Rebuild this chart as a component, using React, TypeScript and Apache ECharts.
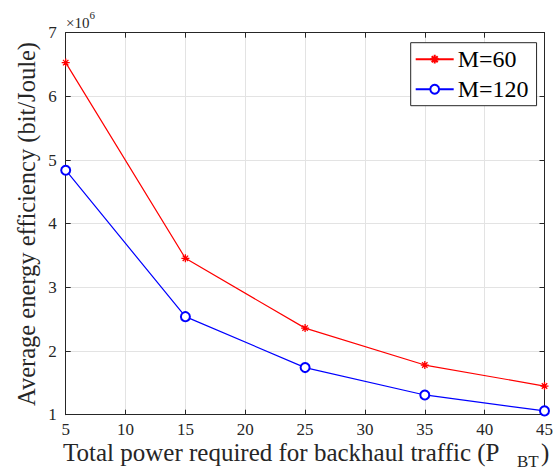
import React, { useEffect, useRef } from "react";
import * as echarts from "echarts";

const xValues = [5, 15, 25, 35, 45];
const seriesM60 = [6.53, 3.456, 2.36, 1.78, 1.45];
const seriesM120 = [4.84, 2.54, 1.74, 1.31, 1.06];
const seriesNames = ["M=60", "M=120"];
const yLabel = "Average energy efficiency (bit/Joule)";
const xLabelMain = "Total power required for backhaul traffic (P";
const xLabelSub = "BT";

const FONT = "Liberation Serif";
const AXIS_COLOR = "#262626";
const GRID_COLOR = "#e3e3e3";
const ASTERISK = "path://M5,0 L5,10 M0,5 L10,5 M1.6,1.6 L8.4,8.4 M1.6,8.4 L8.4,1.6";

export default function App() {
  const ref = useRef<HTMLDivElement>(null);
  useEffect(() => {
    if (!ref.current) return;
    const chart = echarts.init(ref.current, undefined, { renderer: "svg" });
    const gl = 65.7, gt = 32.7, gw = 480, gh = 382;
    const axisCommon = {
      min: 5,
      max: 45,
      interval: 5,
      axisLine: { show: true, onZero: false, lineStyle: { color: AXIS_COLOR, width: 1 } },
      axisTick: { show: true, inside: true, length: 5, lineStyle: { color: AXIS_COLOR } },
    };
    const yCommon = {
      min: 1,
      max: 7,
      interval: 1,
      axisLine: { show: true, onZero: false, lineStyle: { color: AXIS_COLOR, width: 1 } },
      axisTick: { show: true, inside: true, length: 5, lineStyle: { color: AXIS_COLOR } },
    };
    chart.setOption({
      animation: false,
      backgroundColor: "#ffffff",
      textStyle: { fontFamily: FONT },
      grid: { left: gl, top: gt, width: gw, height: gh, containLabel: false },
      xAxis: [
        {
          type: "value",
          position: "bottom",
          ...axisCommon,
          splitLine: { show: true, lineStyle: { color: GRID_COLOR, width: 1 } },
          axisLabel: { color: AXIS_COLOR, fontFamily: FONT, fontSize: 17, lineHeight: 12, margin: 9 },
        },
        {
          type: "value",
          position: "top",
          ...axisCommon,
          splitLine: { show: false },
          axisLabel: { show: false },
        },
      ],
      yAxis: [
        {
          type: "value",
          position: "left",
          ...yCommon,
          splitLine: { show: true, lineStyle: { color: GRID_COLOR, width: 1 } },
          axisLabel: { color: AXIS_COLOR, fontFamily: FONT, fontSize: 17, margin: 9 },
        },
        {
          type: "value",
          position: "right",
          ...yCommon,
          splitLine: { show: false },
          axisLabel: { show: false },
        },
      ],
      legend: {
        orient: "vertical",
        left: 410.7,
        top: 42.7,
        padding: [4, 8, 4, 4],
        itemGap: 5,
        itemWidth: 38,
        itemHeight: 11,
        backgroundColor: "#ffffff",
        borderColor: AXIS_COLOR,
        borderWidth: 1,
        borderRadius: 0,
        textStyle: { fontFamily: FONT, fontSize: 24, color: "#000000", lineHeight: 25, padding: [0, 0, 0, -1] },
        data: seriesNames,
      },
      series: [
        {
          name: seriesNames[0],
          type: "line",
          data: xValues.map((x, i) => [x, seriesM60[i]]),
          symbol: ASTERISK,
          symbolSize: 8,
          showAllSymbol: true,
          lineStyle: { color: "#ff0000", width: 1.2 },
          itemStyle: { color: "#ff0000", borderColor: "#ff0000", borderWidth: 1.3 },
          z: 3,
        },
        {
          name: seriesNames[1],
          type: "line",
          data: xValues.map((x, i) => [x, seriesM120[i]]),
          symbol: "emptyCircle",
          symbolSize: 9,
          showAllSymbol: true,
          lineStyle: { color: "#0000ff", width: 1.2 },
          itemStyle: { color: "#0000ff", borderColor: "#0000ff", borderWidth: 1.3 },
          z: 3,
        },
      ],
      graphic: [
        {
          type: "text",
          x: 66,
          y: 23.2,
          style: { text: "×10", fontFamily: FONT, fontSize: 15, lineHeight: 13, fill: AXIS_COLOR, verticalAlign: "middle" },
        },
        {
          type: "text",
          x: 89.5,
          y: 15.3,
          style: { text: "6", fontFamily: FONT, fontSize: 11, lineHeight: 8, fill: AXIS_COLOR, verticalAlign: "middle" },
        },
        {
          type: "text",
          x: 26,
          y: 224,
          rotation: Math.PI / 2,
          style: {
            text: yLabel,
            fontFamily: FONT,
            fontSize: 24.5,
            fill: AXIS_COLOR,
            align: "center",
            verticalAlign: "middle",
          },
        },
        {
          type: "text",
          x: 63,
          y: 452,
          style: {
            text: xLabelMain,
            fontFamily: FONT,
            fontSize: 25,
            lineHeight: 20,
            fill: AXIS_COLOR,
            align: "left",
            verticalAlign: "middle",
          },
        },
        {
          type: "text",
          x: 517,
          y: 461.5,
          style: {
            text: xLabelSub,
            fontFamily: FONT,
            fontSize: 17,
            lineHeight: 9,
            fill: AXIS_COLOR,
            align: "left",
            verticalAlign: "middle",
          },
        },
        {
          type: "text",
          x: 541,
          y: 452,
          style: {
            text: ")",
            fontFamily: FONT,
            fontSize: 25,
            lineHeight: 20,
            fill: AXIS_COLOR,
            align: "left",
            verticalAlign: "middle",
          },
        },
      ],
    });
    return () => chart.dispose();
  }, []);
  return <div ref={ref} style={{ width: 556, height: 470, position: "absolute", left: 0, top: 0 }} />;
}
